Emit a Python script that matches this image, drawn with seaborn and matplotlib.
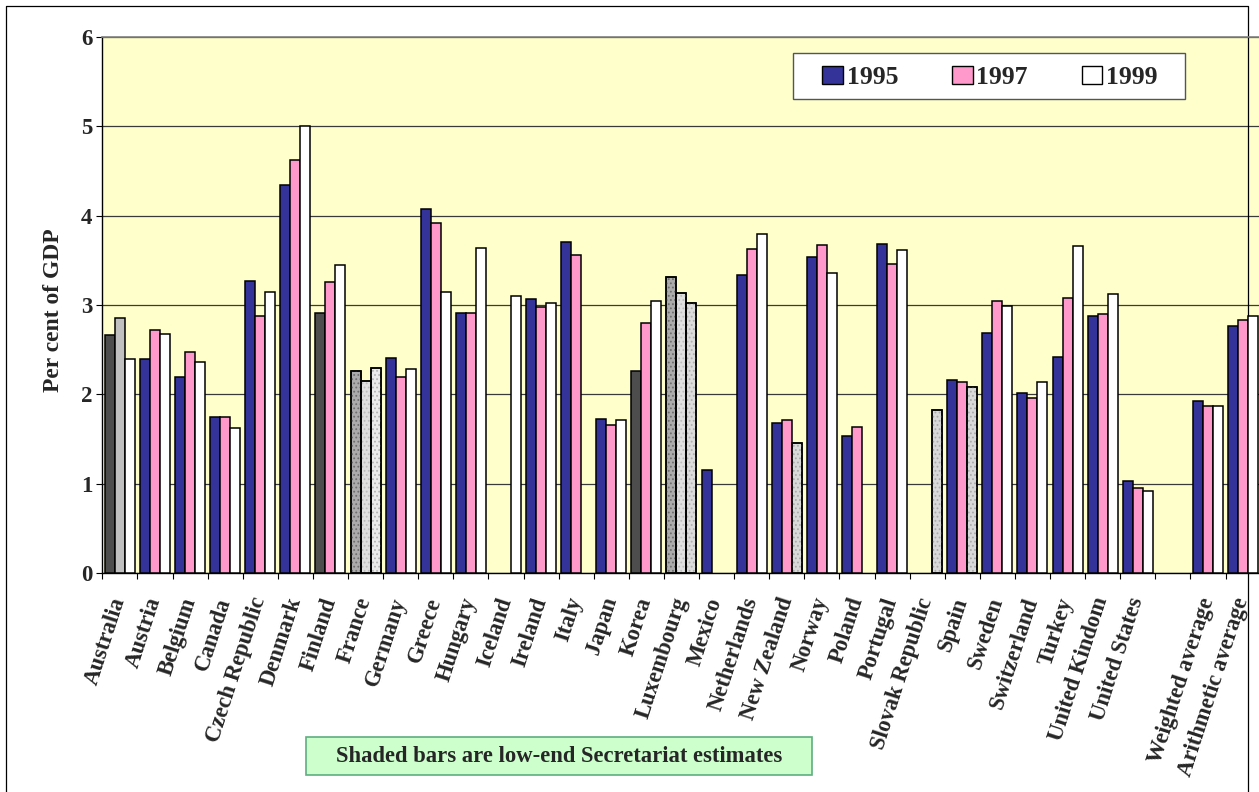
import numpy as np
import pandas as pd
import matplotlib
matplotlib.use("Agg")
import matplotlib.pyplot as plt
from matplotlib.patches import Patch, Rectangle
from matplotlib.lines import Line2D
import seaborn as sns

nan = np.nan

categories = ["Australia", "Austria", "Belgium", "Canada", "Czech Republic", "Denmark",
              "Finland", "France", "Germany", "Greece", "Hungary", "Iceland", "Ireland",
              "Italy", "Japan", "Korea", "Luxembourg", "Mexico", "Netherlands",
              "New Zealand", "Norway", "Poland", "Portugal", "Slovak Republic", "Spain",
              "Sweden", "Switzerland", "Turkey", "United Kindom", "United States", "",
              "Weighted average", "Arithmetic average"]

years = ["1995", "1997", "1999"]

v1995 = [2.66, 2.40, 2.19, 1.75, 3.27, 4.34, 2.91, 2.26, 2.41, 4.07, 2.91, nan, 3.07,
         3.70, 1.72, 2.26, 3.31, 1.15, 3.34, 1.68, 3.54, 1.53, 3.68, nan, 2.16, 2.69,
         2.02, 2.42, 2.88, 1.03, nan, 1.93, 2.76]
v1997 = [2.86, 2.72, 2.47, 1.75, 2.88, 4.62, 3.26, 2.15, 2.19, 3.92, 2.91, nan, 2.98,
         3.56, 1.66, 2.80, 3.13, nan, 3.63, 1.71, 3.67, 1.63, 3.46, nan, 2.14, 3.05,
         1.96, 3.08, 2.90, 0.95, nan, 1.87, 2.83]
v1999 = [2.40, 2.68, 2.36, 1.62, 3.14, 5.00, 3.45, 2.30, 2.28, 3.14, 3.64, 3.10, 3.02,
         nan, 1.71, 3.05, 3.02, nan, 3.80, 1.45, 3.36, nan, 3.62, 1.83, 2.08, 2.99,
         2.14, 3.66, 3.12, 0.92, nan, 1.87, 2.88]

year_colors = {"1995": "#333399", "1997": "#FF99CC", "1999": "#FFFFFF"}

# low-end Secretariat estimates: solid grey fills
shaded_solid = {("Australia", "1995"): "#4D4D4D", ("Australia", "1997"): "#C0C0C0",
                ("Finland", "1995"): "#4D4D4D", ("Korea", "1995"): "#4D4D4D"}
# low-end Secretariat estimates: stippled grey fills (face, dot colour)
shaded_stipple = {("France", "1995"): ("#ABABAB", "#6E6E6E"),
                  ("France", "1997"): ("#E0E0E0", "#BDBDBD"),
                  ("France", "1999"): ("#EBEBEB", "#B5B5B5"),
                  ("Luxembourg", "1995"): ("#ABABAB", "#6E6E6E"),
                  ("Luxembourg", "1997"): ("#E0E0E0", "#BDBDBD"),
                  ("Luxembourg", "1999"): ("#DCDCDC", "#B0B0B0"),
                  ("New Zealand", "1999"): ("#D9D9D9", "#ABABAB"),
                  ("Slovak Republic", "1999"): ("#D9D9D9", "#ABABAB"),
                  ("Spain", "1999"): ("#D9D9D9", "#ABABAB")}

note_text = "Shaded bars are low-end Secretariat estimates"
ylabel_text = "Per cent of GDP"

rows = []
for yr, vals in zip(years, [v1995, v1997, v1999]):
    for c, v in zip(categories, vals):
        if not np.isnan(v):
            rows.append({"country": c, "year": yr, "value": v})
df = pd.DataFrame(rows)

sns.set_style("white")
plt.rcParams["font.family"] = ["Liberation Serif", "DejaVu Serif"]
plt.rcParams["font.weight"] = "bold"
plt.rcParams["hatch.linewidth"] = 0.8

W, H = 1259, 792
fig = plt.figure(figsize=(W / 100, H / 100), dpi=100)
fig.patch.set_facecolor("white")


def fx(x):
    return x / W


def fy(y):
    return 1 - y / H


ax = fig.add_axes([fx(102.3), fy(573), 1158.3 / W, 536 / H])
ax.set_facecolor("#FFFFCC")

group_width = 0.855
sns.barplot(data=df, x="country", y="value", hue="year", order=categories,
            hue_order=years, palette=year_colors, saturation=1, width=group_width,
            errorbar=None, edgecolor="black", linewidth=1.1, legend=False, ax=ax)

bar_w = group_width / 3
for p in list(ax.patches):
    h = p.get_height()
    if not np.isfinite(h) or h == 0:
        continue
    p.set_zorder(3)
    cx = p.get_x() + p.get_width() / 2
    idx = int(round(cx))
    k = int(round((cx - idx) / bar_w)) + 1
    key = (categories[idx], years[k])
    if key in shaded_solid:
        p.set_facecolor(shaded_solid[key])
    elif key in shaded_stipple:
        face, dots = shaded_stipple[key]
        p.set_facecolor(face)
        ax.bar(cx, h, width=p.get_width(), fill=False, hatch="....",
               edgecolor=dots, linewidth=0, zorder=3.1)
        ax.bar(cx, h, width=p.get_width(), fill=False, edgecolor="black",
               linewidth=1.1, zorder=3.2)

ax.set_ylim(0, 6)
ax.set_xlim(-0.5, len(categories) - 0.5)
ax.set_yticks(range(7))
ax.set_yticklabels([str(i) for i in range(7)], fontsize=16.5, fontweight="bold")
ax.tick_params(axis="y", direction="out", length=4.3, width=0.8, color="black",
               pad=2.7, left=True)

ax.set_xticks(range(len(categories)))
ax.set_xticklabels(categories, rotation=72, ha="right", va="center",
                   rotation_mode="anchor", fontsize=16.3, fontweight="bold")
ax.set_xticks(np.arange(-0.5, len(categories), 1), minor=True)
ax.tick_params(axis="x", which="major", length=0, pad=18)
ax.tick_params(axis="x", which="minor", direction="out", length=4.3, width=0.8,
               color="black", bottom=True)
ax.set_xlabel("")
ax.set_ylabel("")

ax.set_axisbelow(True)
ax.yaxis.grid(True, color="#3A3A3A", linewidth=0.9)
ax.xaxis.grid(False)
for side in ["left", "bottom"]:
    ax.spines[side].set_color("black")
    ax.spines[side].set_linewidth(1.0)
ax.spines["top"].set_color("#808080")
ax.spines["top"].set_linewidth(1.2)
ax.spines["right"].set_visible(False)

# chart-area border (drawn beneath the bars)
border = Line2D([fx(6), fx(6), fx(1248), fx(1248)], [fy(800), fy(6), fy(6), fy(800)],
                transform=fig.transFigure, color="black", linewidth=0.9,
                clip_on=False, zorder=1.5)
ax.add_line(border)
ax.set_xlim(-0.5, len(categories) - 0.5)
ax.set_ylim(0, 6)

fig.text(fx(54), fy(310), ylabel_text, rotation=90, ha="center", va="center",
         fontsize=17, fontweight="bold")

# legend
fig.patches.append(Rectangle((fx(793), fy(99)), (1185 - 793) / W, 46 / H,
                             transform=fig.transFigure, facecolor="white",
                             edgecolor="#555555", linewidth=1.0, zorder=4))
handles = [Patch(facecolor=year_colors[y], edgecolor="black", linewidth=1.0, label=y)
           for y in years]
fig.legend(handles=handles, loc="center", bbox_to_anchor=(fx(990), fy(77)), ncol=3,
           frameon=False, prop={"size": 18.5, "weight": "bold"}, handlelength=0.8,
           handleheight=0.7, handletextpad=0.15, columnspacing=2.1, borderpad=0)

# note box
fig.patches.append(Rectangle((fx(306), fy(775)), (812 - 306) / W, 38 / H,
                             transform=fig.transFigure, facecolor="#CCFFCC",
                             edgecolor="#5DAE80", linewidth=1.2, zorder=4))
fig.text(fx(559), fy(756), note_text, ha="center", va="center", fontsize=16.3,
         fontweight="bold", zorder=5)

fig.savefig("out.png", dpi=100)
